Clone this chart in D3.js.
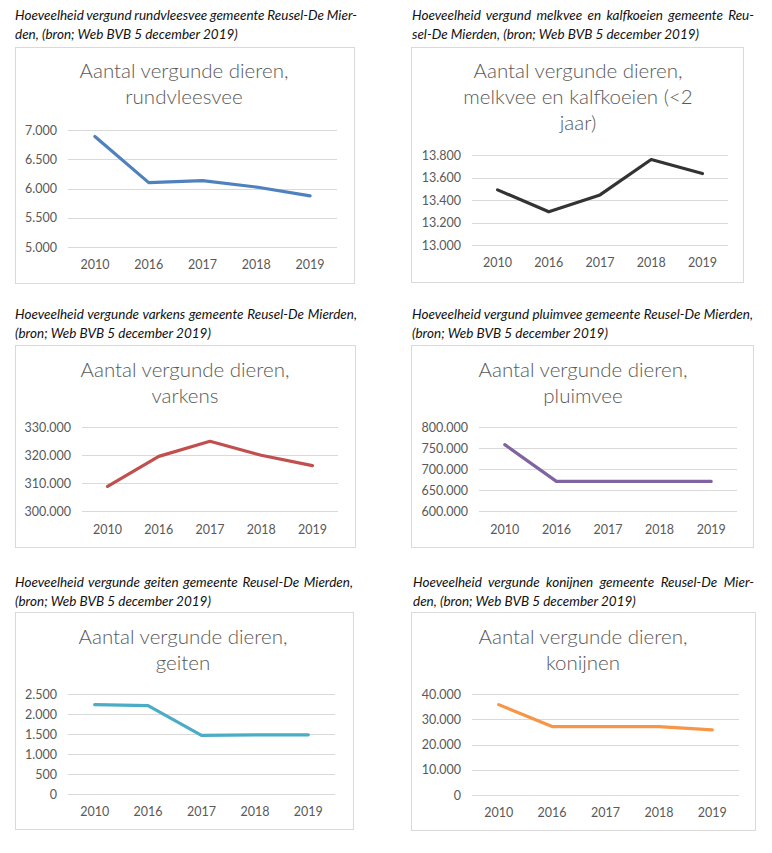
<!DOCTYPE html>
<html><head><meta charset="utf-8">
<script src="https://cdn.jsdelivr.net/npm/d3@7"></script>
<style>
html,body{margin:0;padding:0;background:#fff;}
svg{display:block;}
</style></head>
<body>
<svg id="c" width="772" height="853"></svg>
<script>
// ---- data ----
const years = ["2010", "2016", "2017", "2018", "2019"];
const rundvleesvee = [6890, 6100, 6135, 6025, 5875];
const melkvee = [13490, 13295, 13445, 13760, 13635];
const varkens = [308800, 319500, 324900, 319900, 316200];
const pluimvee = [758000, 670500, 670500, 670500, 670500];
const geiten = [2235, 2210, 1465, 1480, 1480];
const konijnen = [35800, 27100, 27100, 27100, 25800];

const ticksRund = [5000, 5500, 6000, 6500, 7000];
const ticksMelk = [13000, 13200, 13400, 13600, 13800];
const ticksVark = [300000, 310000, 320000, 330000];
const ticksPluim = [600000, 650000, 700000, 750000, 800000];
const ticksGeit = [0, 500, 1000, 1500, 2000, 2500];
const ticksKonijn = [0, 10000, 20000, 30000, 40000];

const titleRund = ["Aantal vergunde dieren,", "rundvleesvee"];
const titleMelk = ["Aantal vergunde dieren,", "melkvee en kalfkoeien (<2", "jaar)"];
const titleVark = ["Aantal vergunde dieren,", "varkens"];
const titlePluim = ["Aantal vergunde dieren,", "pluimvee"];
const titleGeit = ["Aantal vergunde dieren,", "geiten"];
const titleKonijn = ["Aantal vergunde dieren,", "konijnen"];

const capRund = ["Hoeveelheid vergund rundvleesvee gemeente Reusel-De Mier-", "den, (bron; Web BVB 5 december 2019)"];
const capMelk = ["Hoeveelheid vergund melkvee en kalfkoeien gemeente Reu-", "sel-De Mierden, (bron; Web BVB 5 december 2019)"];
const capVark = ["Hoeveelheid vergunde varkens gemeente Reusel-De Mierden,", "(bron; Web BVB 5 december 2019)"];
const capPluim = ["Hoeveelheid vergund pluimvee gemeente Reusel-De Mierden,", "(bron; Web BVB 5 december 2019)"];
const capGeit = ["Hoeveelheid vergunde geiten gemeente Reusel-De Mierden,", "(bron; Web BVB 5 december 2019)"];
const capKonijn = ["Hoeveelheid vergunde konijnen gemeente Reusel-De Mier-", "den, (bron; Web BVB 5 december 2019)"];

// ---- layout ----
const nl = d3.formatLocale({decimal: ",", thousands: ".", grouping: [3], currency: ["€", ""]});
const fmt = nl.format(",");
const svg = d3.select("#c");
const FONT = "Lato, 'Open Sans', sans-serif";

const panels = [
  {vals: rundvleesvee, ticks: ticksRund, title: titleRund, cap: capRund, color: "#4F81BD",
   box: [15, 47, 354, 283], capX: 15, capR: 357, capY: [20, 39], px: [68, 337], dom: [5000, 7000], py: [247, 130],
   tx: 184, ty: [77.5, 103.5], xly: 269},
  {vals: melkvee, ticks: ticksMelk, title: titleMelk, cap: capMelk, color: "#333333",
   box: [411, 47, 743, 282], capX: 412, capR: 754, capY: [20, 39], px: [472, 728], dom: [13000, 13800], py: [245, 155],
   tx: 578, ty: [77.5, 103.5, 129.5], xly: 267},
  {vals: varkens, ticks: ticksVark, title: titleVark, cap: capVark, color: "#C0504D",
   box: [15, 345, 355, 547], capX: 15, capR: 357, capY: [319, 338], px: [82, 338], dom: [300000, 330000], py: [511, 427],
   tx: 185, ty: [377, 402.5], xly: 534},
  {vals: pluimvee, ticks: ticksPluim, title: titlePluim, cap: capPluim, color: "#8064A2",
   box: [411, 345, 753, 547], capX: 412, capR: 753, capY: [319, 338], px: [479, 737], dom: [600000, 800000], py: [511, 427],
   tx: 583, ty: [377, 402.5], xly: 534},
  {vals: geiten, ticks: ticksGeit, title: titleGeit, cap: capGeit, color: "#4BACC6",
   box: [15, 612, 353, 829], capX: 15, capR: 353, capY: [587, 606], px: [68, 335], dom: [0, 2500], py: [794, 694],
   tx: 183, ty: [644, 670], xly: 816},
  {vals: konijnen, ticks: ticksKonijn, title: titleKonijn, cap: capKonijn, color: "#F79646",
   box: [411, 612, 755, 830], capX: 413, capR: 754, capY: [587, 606], px: [472, 739], dom: [0, 40000], py: [795, 694],
   tx: 583, ty: [644, 670], xly: 817}
];

panels.forEach(p => {
  const g = svg.append("g");
  // caption
  p.cap.forEach((line, i) => {
    const t = g.append("text").attr("x", p.capX).attr("y", p.capY[i])
      .attr("font-family", FONT).attr("font-style", "italic").attr("font-size", 13.5)
      .attr("fill", "#111").text(line);
    if (i === 0) {
      const w = t.node().getComputedTextLength();
      const n = line.split(" ").length - 1;
      const target = p.capR - p.capX;
      t.attr("word-spacing", (target - w) / n);
    }
  });
  // box
  const [bx0, by0, bx1, by1] = p.box;
  g.append("rect").attr("x", bx0 + 0.5).attr("y", by0 + 0.5).attr("width", bx1 - bx0).attr("height", by1 - by0)
    .attr("fill", "#fff").attr("stroke", "#d9d9d9").attr("stroke-width", 1);
  // title
  p.title.forEach((line, i) => {
    g.append("text").attr("x", p.tx).attr("y", p.ty[i]).attr("text-anchor", "middle")
      .attr("font-family", FONT).attr("font-weight", 300).attr("font-size", 20.5).attr("fill", "#595959").text(line);
  });
  const x = d3.scaleBand().domain(years).range(p.px);
  const y = d3.scaleLinear().domain(p.dom).range(p.py);
  // gridlines + y labels
  p.ticks.forEach(tk => {
    g.append("line").attr("x1", p.px[0]).attr("x2", p.px[1]).attr("y1", Math.round(y(tk)) + 0.5).attr("y2", Math.round(y(tk)) + 0.5)
      .attr("stroke", "#d9d9d9").attr("stroke-width", 1);
    g.append("text").attr("x", p.px[0] - 11).attr("y", y(tk) + 4.5).attr("text-anchor", "end")
      .attr("font-family", FONT).attr("font-size", 12.5).attr("fill", "#595959").text(fmt(tk));
  });
  // x labels
  years.forEach(yr => {
    g.append("text").attr("x", x(yr) + x.bandwidth() / 2).attr("y", p.xly).attr("text-anchor", "middle")
      .attr("font-family", FONT).attr("font-size", 12.5).attr("fill", "#595959").text(yr);
  });
  // line
  const line = d3.line().x((d, i) => x(years[i]) + x.bandwidth() / 2).y(d => y(d));
  g.append("path").datum(p.vals).attr("d", line).attr("fill", "none").attr("stroke", p.color)
    .attr("stroke-width", 3.2).attr("stroke-linecap", "round").attr("stroke-linejoin", "round");
});
</script>
</body></html>
